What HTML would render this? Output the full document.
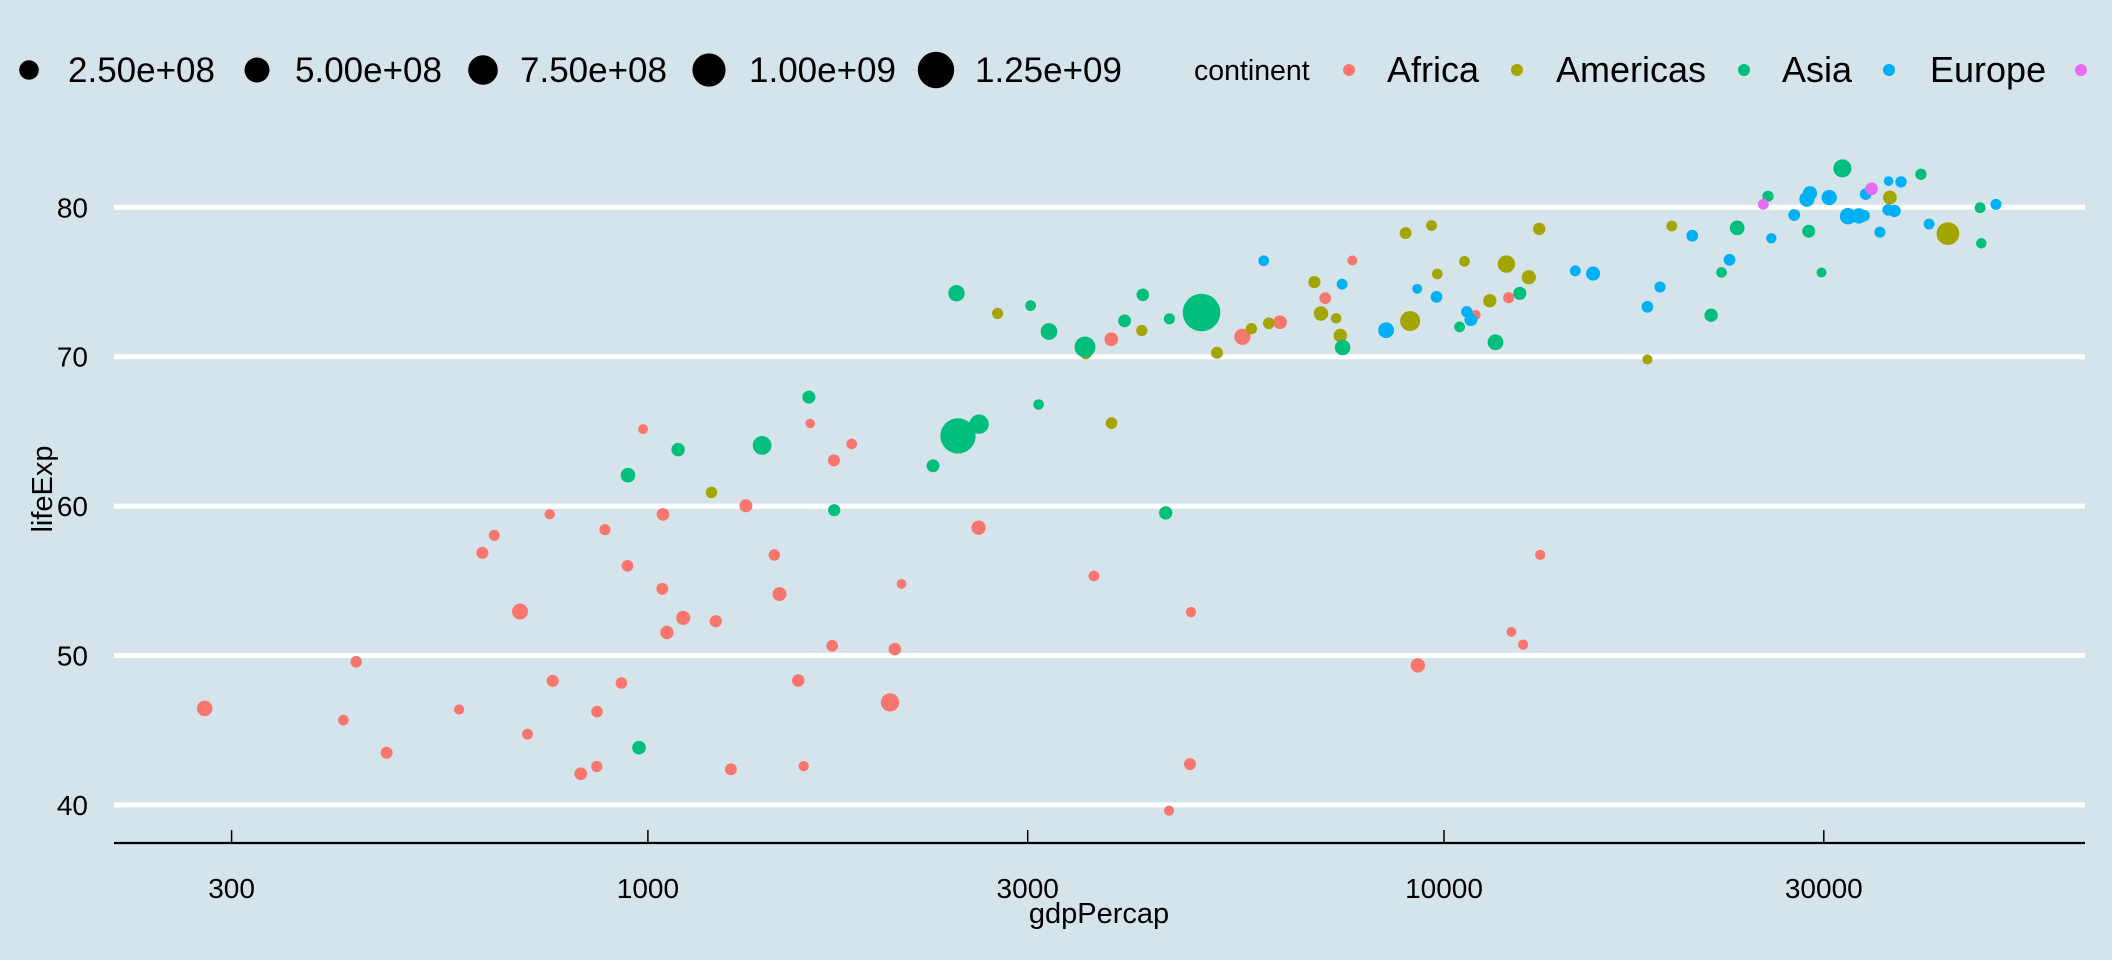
<!DOCTYPE html>
<html><head><meta charset="utf-8">
<style>
html,body{margin:0;padding:0;background:#d5e4eb;}
svg{display:block;font-family:"Liberation Sans",sans-serif;}
</style></head>
<body>
<svg id="s" width="2112" height="960" viewBox="0 0 2112 960" xmlns="http://www.w3.org/2000/svg">
<rect width="2112" height="960" fill="#d5e4eb"/>
<g stroke="#ffffff" stroke-width="5">
<line x1="114" x2="2085" y1="207.3" y2="207.3"/>
<line x1="114" x2="2085" y1="356.7" y2="356.7"/>
<line x1="114" x2="2085" y1="506.1" y2="506.1"/>
<line x1="114" x2="2085" y1="655.5" y2="655.5"/>
<line x1="114" x2="2085" y1="804.9" y2="804.9"/>
</g>
<g id="pts"></g>
<line x1="114" x2="2085" y1="843" y2="843" stroke="#000" stroke-width="2.2"/>
<g stroke="#000" stroke-width="1.5">
<line x1="231.6" x2="231.6" y1="830" y2="843"/>
<line x1="647.9" x2="647.9" y1="830" y2="843"/>
<line x1="1027.7" x2="1027.7" y1="830" y2="843"/>
<line x1="1444" x2="1444" y1="830" y2="843"/>
<line x1="1823.8" x2="1823.8" y1="830" y2="843"/>
</g>
<g font-size="28" text-anchor="middle" fill="#000">
<text x="231.6" y="898">300</text>
<text x="647.9" y="898">1000</text>
<text x="1027.7" y="898">3000</text>
<text x="1444" y="898">10000</text>
<text x="1823.8" y="898">30000</text>
</g>
<g font-size="28" text-anchor="end" fill="#000">
<text x="88" y="217.3">80</text>
<text x="88" y="366.7">70</text>
<text x="88" y="516.1">60</text>
<text x="88" y="665.5">50</text>
<text x="88" y="814.9">40</text>
</g>
<text x="1099" y="923" font-size="29" text-anchor="middle">gdpPercap</text>
<text transform="translate(52,489) rotate(-90)" font-size="29" text-anchor="middle">lifeExp</text>
<g fill="#000">
<circle cx="29" cy="70" r="9.8"/>
<circle cx="257" cy="70" r="12.5"/>
<circle cx="483" cy="70" r="14.8"/>
<circle cx="709" cy="70" r="16.6"/>
<circle cx="936" cy="70" r="18.2"/>
</g>
<g font-size="34" fill="#000">
<text x="68" y="82" font-size="35">2.50e+08</text>
<text x="295" y="82" font-size="35">5.00e+08</text>
<text x="520" y="82" font-size="35">7.50e+08</text>
<text x="749" y="82" font-size="35">1.00e+09</text>
<text x="975" y="82" font-size="35">1.25e+09</text>
<text x="1194" y="80" font-size="28.5">continent</text>
<text x="1387" y="82" font-size="36">Africa</text>
<text x="1556" y="82" font-size="36">Americas</text>
<text x="1782" y="82" font-size="36">Asia</text>
<text x="1930" y="82" font-size="36">Europe</text>
</g>
<circle cx="1349" cy="70" r="6" fill="#F8766D"/>
<circle cx="1517" cy="70" r="6" fill="#A3A500"/>
<circle cx="1744" cy="70" r="6" fill="#00BF7D"/>
<circle cx="1889" cy="70" r="6" fill="#00B0F6"/>
<circle cx="2081" cy="70" r="6" fill="#E76BF3"/>
</svg>
<script>
var C={F:"#F8766D",A:"#A3A500",S:"#00BF7D",E:"#00B0F6",O:"#E76BF3"};
var d=[
["F",72.301,33333216,6223.367],["F",42.731,12420476,4797.231],["F",56.728,8078314,1441.285],["F",50.728,1639131,12569.85],["F",52.295,14326203,1217.033],["F",49.580,8390505,430.0707],["F",50.430,17696293,2042.095],["F",44.741,4369038,706.0165],["F",50.651,10238807,1704.064],["F",65.152,710960,986.1479],["F",46.462,64606759,277.5519],["F",55.322,3800610,3632.558],["F",48.328,18013409,1544.750],["F",54.791,496374,2082.482],["F",71.338,80264543,5581.181],["F",51.579,551201,12154.09],["F",58.040,4906585,641.3695],["F",52.947,76511887,690.8056],["F",56.735,1454867,13206.48],["F",59.448,1688359,752.7497],["F",60.022,22873338,1327.609],["F",56.007,9947814,942.6542],["F",46.388,1472041,579.2317],["F",54.110,35610177,1463.249],["F",42.592,2012649,1569.331],["F",45.678,3193942,414.5073],["F",73.952,6036914,12057.50],["F",59.443,19167654,1044.770],["F",48.303,13327079,759.3499],["F",54.467,12031795,1042.582],["F",64.164,3270065,1803.151],["F",72.801,1250882,10956.99],["F",71.164,33757175,3820.175],["F",42.082,19951656,823.6856],["F",52.906,2055080,4811.060],["F",56.867,12894865,619.6769],["F",46.859,135031164,2013.977],["F",76.442,798094,7670.123],["F",46.242,8860588,863.0885],["F",65.528,199579,1598.435],["F",63.062,12267493,1712.472],["F",42.568,6144562,862.5408],["F",48.159,9118773,926.1411],["F",49.339,43997828,9269.658],["F",58.556,42292929,2602.395],["F",39.613,1133066,4513.481],["F",52.517,38139640,1107.482],["F",58.420,5701579,882.9699],["F",73.923,10276158,7092.923],["F",51.542,29170398,1056.380],["F",42.384,11746035,1271.212],["F",43.487,12311143,469.7093],
["A",75.320,40301927,12779.38],["A",65.554,9119152,3822.137],["A",72.390,190010647,9065.801],["A",80.653,33390141,36319.24],["A",78.553,16284741,13171.64],["A",72.889,44227550,7006.580],["A",78.782,4133884,9645.061],["A",78.273,11416987,8948.103],["A",72.235,9319622,6025.375],["A",74.994,13755680,6873.262],["A",71.878,6939688,5728.354],["A",70.259,12572928,5186.050],["A",60.916,8502814,1201.637],["A",70.198,7483763,3548.331],["A",72.567,2780132,7320.880],["A",76.195,108700891,11977.57],["A",72.899,5675356,2749.321],["A",75.537,3242173,9809.186],["A",71.752,6667147,4172.838],["A",71.421,28674757,7408.906],["A",78.746,3942491,19328.71],["A",69.819,1056608,18008.51],["A",78.242,301139947,42951.65],["A",76.384,3447496,10611.46],["A",73.747,26084662,11415.81],
["S",43.828,31889923,974.5803],["S",75.635,708573,29796.05],["S",64.062,150448339,1391.254],["S",59.723,14131858,1713.779],["S",82.208,6980412,39724.98],["S",64.698,1110396331,2452.210],["S",70.650,223547000,3540.652],["S",70.964,69453570,11605.71],["S",59.545,27499638,4471.062],["S",80.745,6426679,25523.28],["S",82.603,127467972,31656.07],["S",72.535,6053193,4519.461],["S",67.297,23301725,1593.065],["S",78.623,49044790,23348.14],["S",77.588,2505559,47306.99],["S",71.993,3921278,10461.06],["S",74.241,24821286,12451.66],["S",66.803,2874127,3095.772],["S",62.069,47761980,944.0],["S",63.785,28901790,1091.360],["S",75.640,3204897,22316.19],["S",65.483,169270617,2605.948],["S",71.688,91077287,3190.481],["S",72.777,27601038,21654.83],["S",79.972,4553009,47143.18],["S",72.396,20378239,3970.095],["S",74.143,19314747,4184.548],["S",78.400,23174294,28718.28],["S",70.616,65068149,7458.396],["S",74.249,85262356,2441.577],["S",73.422,4018332,3025.350],["S",62.698,22211743,2280.770],
["E",76.423,3600523,5937.030],["E",79.829,8199783,36126.49],["E",79.441,10392226,33692.61],["E",74.852,4552198,7446.299],["E",73.005,7322858,10680.79],["E",75.748,4493312,14619.22],["E",76.486,10228744,22833.31],["E",78.332,5468120,35278.42],["E",79.313,5238460,33207.08],["E",80.657,61083916,30470.02],["E",79.406,82400996,32170.37],["E",79.483,10706290,27538.41],["E",73.338,9956108,18008.94],["E",81.757,301931,36180.79],["E",78.885,4109086,40676.00],["E",80.546,58147733,28569.72],["E",74.543,684736,9253.896],["E",79.762,16570613,36797.93],["E",80.196,4627926,49357.19],["E",75.563,38518241,15389.92],["E",78.098,10642836,20509.65],["E",72.476,22276056,10808.48],["E",74.002,10150265,9786.535],["E",74.663,5447502,18678.31],["E",77.926,2009245,25768.26],["E",80.941,40448191,28821.06],["E",80.884,9031088,33859.75],["E",81.701,7554661,37506.42],["E",71.777,71158647,8458.276],["E",79.425,60776238,33203.26],
["O",81.235,20434176,34435.37],["O",80.204,4115771,25185.01],
["S",72.961,1318683096,4959.115]
];
var mn=Math.sqrt(199579),mx=Math.sqrt(1318683096),h="";
d.forEach(function(p){
var x=647.9+796.1*(Math.log10(p[3])-3),y=207.3+14.94*(80-p[1]);
var s=1+5*(Math.sqrt(p[2])-mn)/(mx-mn),r=2.8*s+2;
h+='<circle cx="'+x.toFixed(1)+'" cy="'+y.toFixed(1)+'" r="'+r.toFixed(2)+'" fill="'+C[p[0]]+'"/>';
});
document.getElementById("pts").innerHTML=h;
</script>
</body></html>
